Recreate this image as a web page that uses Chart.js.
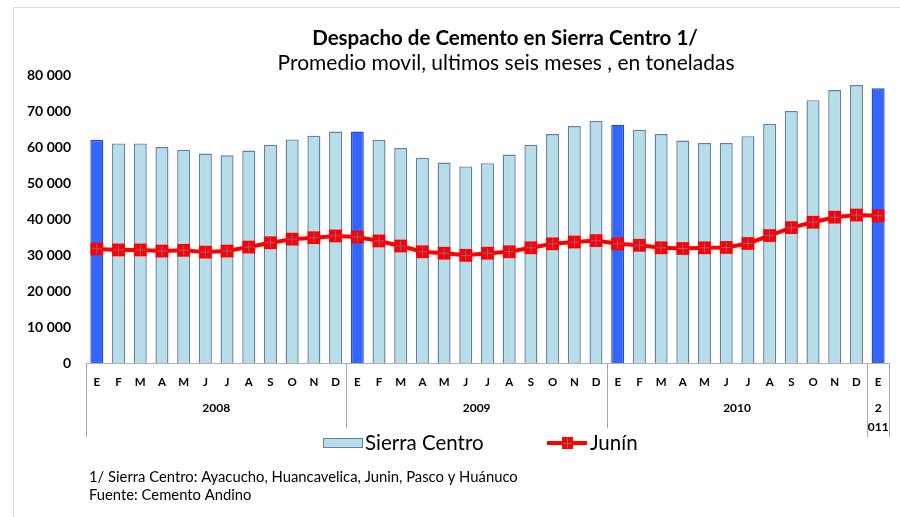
<!DOCTYPE html>
<html>
<head>
<meta charset="utf-8">
<script src="https://cdn.jsdelivr.net/npm/chart.js@4.4.1/dist/chart.umd.min.js"></script>
<style>
  html, body { margin: 0; padding: 0; background: #ffffff; }
  #wrap { position: relative; width: 900px; height: 517px; }
  canvas { display: block; }
</style>
</head>
<body>
<div id="wrap"><canvas id="c" width="900" height="517"></canvas></div>
<script>
// ---- Data ----
const categories = [
  'E','F','M','A','M','J','J','A','S','O','N','D',
  'E','F','M','A','M','J','J','A','S','O','N','D',
  'E','F','M','A','M','J','J','A','S','O','N','D',
  'E'
];
const years = ['2008', '2009', '2010', '2011'];
const yearSizes = [12, 12, 12, 1];
const sierraCentro = [
  62000, 61000, 61000, 60000, 59200, 58200, 57700, 59000, 60600, 62100, 63100, 64300,
  64300, 62000, 59700, 57000, 55700, 54600, 55500, 57900, 60600, 63600, 65800, 67300,
  66200, 64800, 63600, 61800, 61100, 61100, 63000, 66400, 70000, 73000, 75800, 77200,
  76300
];
const junin = [
  31700, 31400, 31400, 31100, 31300, 30800, 31100, 32200, 33400, 34400, 34800, 35300,
  35000, 33900, 32500, 30900, 30500, 29900, 30500, 30900, 32000, 33100, 33600, 34000,
  33100, 32700, 32000, 31800, 32000, 32100, 33200, 35400, 37600, 39100, 40500, 41100,
  40900
];
const yTickValues = [0, 10000, 20000, 30000, 40000, 50000, 60000, 70000, 80000];
const titleText = 'Despacho de Cemento en Sierra Centro 1/';
const subtitleText = 'Promedio movil, ultimos seis meses , en toneladas';
const seriesNames = ['Sierra Centro', 'Junín'];
const footnotes = [
  '1/ Sierra Centro: Ayacucho, Huancavelica, Junin, Pasco y Huánuco',
  'Fuente: Cemento Andino'
];

// ---- Styles ----
const FONT = 'Lato, "Open Sans", "Liberation Sans", sans-serif';
const BAR_FILL = '#b7dde8';
const BAR_EDGE = '#5f80ab';
const JAN_FILL = '#3366ff';
const JAN_EDGE = '#2a4fb8';
const RED = '#ff0000';

function fmt(v) {
  return String(v).replace(/\B(?=(\d{3})+(?!\d))/g, ' ');
}

const decorPlugin = {
  id: 'decor',
  afterDraw(chart) {
    const ctx = chart.ctx;
    const ca = chart.chartArea;
    ctx.save();
    // outer frame
    ctx.strokeStyle = '#d9d9d9';
    ctx.lineWidth = 1;
    ctx.beginPath();
    ctx.moveTo(13.5, 517); ctx.lineTo(13.5, 7.5); ctx.lineTo(900, 7.5);
    ctx.stroke();

    // title
    ctx.fillStyle = '#000';
    ctx.textAlign = 'center';
    ctx.textBaseline = 'middle';
    ctx.font = 'bold 20.5px ' + FONT;
    ctx.fillText(titleText, 505, 38);
    ctx.font = '21px ' + FONT;
    ctx.fillText(subtitleText, 506, 63);

    // x-axis group separators and year labels
    const step = (ca.right - ca.left) / categories.length;
    let idx = 0;
    const bounds = [ca.left];
    yearSizes.forEach(n => { idx += n; bounds.push(ca.left + idx * step); });
    ctx.strokeStyle = '#a6a6a6';
    ctx.lineWidth = 1;
    bounds.forEach((b, i) => {
      const bottom = (i === 0 || i >= bounds.length - 2) ? 437 : 428;
      const x = Math.round(b) + 0.5;
      ctx.beginPath();
      ctx.moveTo(x, ca.bottom);
      ctx.lineTo(x, bottom);
      ctx.stroke();
    });
    ctx.fillStyle = '#000';
    ctx.font = 'bold 12px ' + FONT;
    years.forEach((y, i) => {
      const cx = (bounds[i] + bounds[i + 1]) / 2;
      if (yearSizes[i] === 1) {
        ctx.fillText(y.slice(0, 1), cx, 408);
        ctx.fillText(y.slice(1), cx, 427);
      } else {
        ctx.fillText(y, cx, 408);
      }
    });

    // legend
    ctx.fillStyle = BAR_FILL;
    ctx.strokeStyle = BAR_EDGE;
    ctx.lineWidth = 1;
    ctx.fillRect(323, 438, 40, 10);
    ctx.strokeRect(323.5, 438.5, 39, 9);
    ctx.fillStyle = '#000';
    ctx.textAlign = 'left';
    ctx.font = '20.5px ' + FONT;
    ctx.fillText(seriesNames[0], 365, 443);
    ctx.strokeStyle = RED;
    ctx.lineWidth = 4;
    ctx.beginPath();
    ctx.moveTo(547, 443); ctx.lineTo(587, 443);
    ctx.stroke();
    ctx.fillStyle = RED;
    ctx.fillRect(562, 437, 11, 12);
    ctx.strokeStyle = '#7a6a9a';
    ctx.lineWidth = 1;
    ctx.beginPath();
    ctx.moveTo(567.5, 438); ctx.lineTo(567.5, 448);
    ctx.moveTo(563, 443.5); ctx.lineTo(572, 443.5);
    ctx.stroke();
    ctx.fillStyle = '#000';
    ctx.fillText(seriesNames[1], 590, 443);

    // footnotes
    ctx.font = '14.8px ' + FONT;
    ctx.fillText(footnotes[0], 89, 477);
    ctx.fillText(footnotes[1], 89, 495);
    ctx.restore();
  }
};

const ctx = document.getElementById('c').getContext('2d');
new Chart(ctx, {
  data: {
    labels: categories,
    datasets: [
      {
        type: 'line',
        label: seriesNames[1] + ' (cruz)',
        data: junin,
        showLine: false,
        pointStyle: 'cross',
        pointRadius: 5,
        pointBorderColor: '#7a6a9a',
        pointBorderWidth: 1,
        pointBackgroundColor: 'rgba(0,0,0,0)',
        order: 0
      },
      {
        type: 'line',
        label: seriesNames[1],
        data: junin,
        borderColor: RED,
        borderWidth: 4,
        pointStyle: 'rect',
        pointRadius: 9,
        pointBackgroundColor: RED,
        pointBorderColor: RED,
        pointBorderWidth: 0,
        tension: 0,
        order: 1
      },
      {
        type: 'bar',
        label: seriesNames[0],
        data: sierraCentro,
        backgroundColor: c => (c.dataIndex % 12 === 0 ? JAN_FILL : BAR_FILL),
        borderColor: c => (c.dataIndex % 12 === 0 ? JAN_EDGE : BAR_EDGE),
        borderWidth: 1.4,
        categoryPercentage: 1,
        barPercentage: 0.6,
        order: 2
      }
    ]
  },
  options: {
    responsive: false,
    animation: false,
    events: [],
    layout: { padding: { top: 75, right: 11, left: 0, bottom: 0 } },
    plugins: {
      legend: { display: false },
      title: { display: false },
      tooltip: { enabled: false }
    },
    scales: {
      x: {
        offset: true,
        grid: { display: false, drawTicks: false },
        border: { display: true, color: '#b0b0b0', width: 1 },
        ticks: {
          color: '#000',
          font: { family: FONT, size: 11.5, weight: 'bold' },
          padding: 12,
          maxRotation: 0,
          autoSkip: false
        },
        afterFit(scale) { scale.height = 154; }
      },
      y: {
        min: 0,
        max: 80000,
        grid: { display: false, drawTicks: false },
        border: { display: false },
        afterBuildTicks(scale) { scale.ticks = yTickValues.map(v => ({ value: v })); },
        ticks: {
          color: '#000',
          font: { family: FONT, size: 14, weight: 'bold' },
          padding: 15,
          callback: v => fmt(v)
        },
        afterFit(scale) { scale.width = 86; }
      }
    }
  },
  plugins: [decorPlugin]
});
</script>
</body>
</html>
